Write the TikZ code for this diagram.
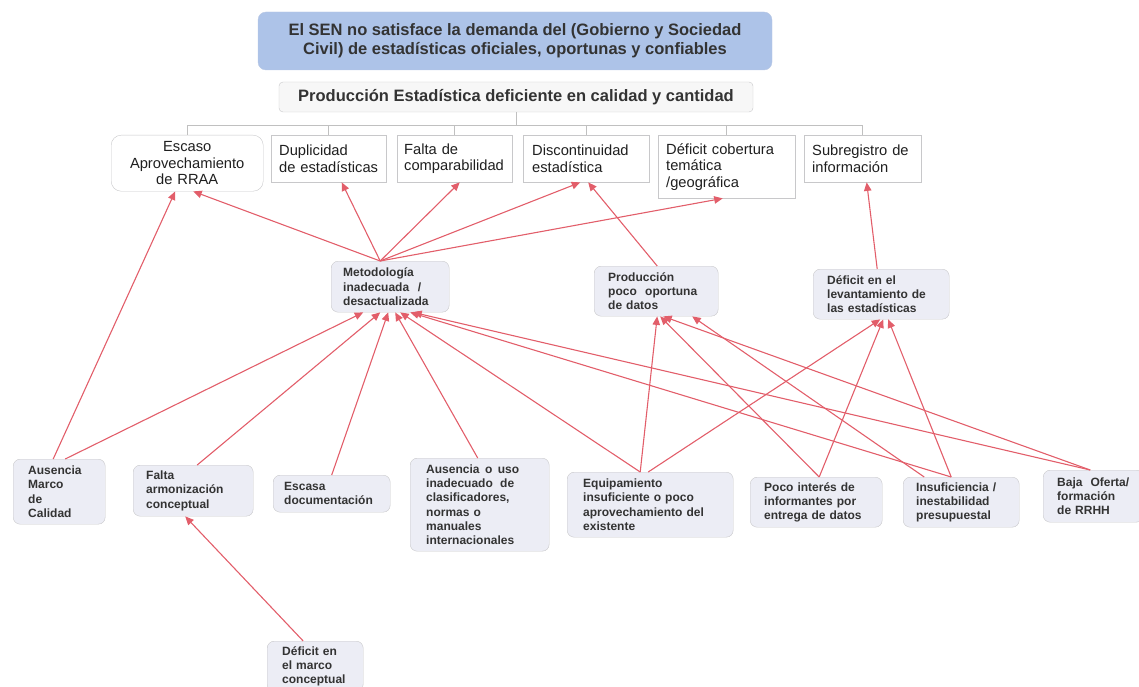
\documentclass[tikz,border=0pt]{standalone}
\usepackage{fontspec}
\setmainfont{Liberation Sans}
\usetikzlibrary{arrows.meta}
\definecolor{titleblue}{RGB}{173,195,232}
\definecolor{titleedge}{RGB}{185,200,228}
\definecolor{edgegray}{RGB}{200,200,202}
\definecolor{causefill}{RGB}{236,237,245}
\definecolor{arrowred}{RGB}{226,94,106}
\definecolor{txtgray}{RGB}{51,51,51}
\definecolor{busgray}{RGB}{192,192,192}
\newcommand{\spreadto}[2]{\makebox[#1][s]{#2}}
\tikzset{
  titlebox/.style={fill=titleblue,draw=titleedge,rounded corners=8pt,align=center,text=txtgray,
    font=\bfseries\fontsize{16.5}{19}\selectfont},
  probbox/.style={fill=gray!6,draw=edgegray,rounded corners=4pt,text=txtgray,
    font=\bfseries\fontsize{16.5}{19}\selectfont},
  effbox/.style={draw=edgegray,fill=white,align=left,inner xsep=8pt,inner ysep=3pt,anchor=north west,
    text=black!88,font=\fontsize{14.7}{16.5}\selectfont},
  causebox/.style={draw=edgegray,fill=causefill,rounded corners=7pt,align=left,inner xsep=14pt,
    inner ysep=3pt,anchor=north west,text=txtgray,font=\bfseries\fontsize{12}{14.3}\selectfont},
  causearrow/.style={draw=arrowred,line width=1.1pt,-{Triangle[length=8.5pt,width=7.5pt]}},
  bus/.style={draw=busgray,line width=0.8pt}
}
\begin{document}
\begin{tikzpicture}[x=1pt,y=-1pt]
\useasboundingbox (0,0) rectangle (1139,687);
% problema central
\node[titlebox,minimum width=514pt,minimum height=58pt] (sen) at (515,41)
  {El SEN no satisface la demanda del (Gobierno y Sociedad\\Civil) de estad\'isticas oficiales, oportunas y confiables};
\node[probbox,minimum width=474pt,minimum height=30pt] (prod) at (516,97)
  {Producci\'on Estad\'istica deficiente en calidad y cantidad};
% efectos
\node[effbox,rounded corners=10pt,align=center,text width=136pt,minimum height=56pt] (escaso) at (111,135)
  {Escaso\\Aprovechamiento\\de RRAA};
\node[effbox,text width=99pt,minimum height=47pt] (dupl) at (271,135) {Duplicidad\\de estad\'isticas};
\node[effbox,inner xsep=7pt,text width=101pt,minimum height=47pt] (faltac) at (397,135) {Falta de\\comparabilidad};
\node[effbox,inner xsep=9pt,text width=108pt,minimum height=47pt] (discont) at (523,135) {Discontinuidad\\estad\'istica};
\node[effbox,text width=121pt,minimum height=63pt] (defcob) at (658,135) {D\'eficit cobertura\\tem\'atica\\/geogr\'afica};
\node[effbox,text width=101pt,minimum height=47pt] (subreg) at (804,135) {Subregistro de\\informaci\'on};
\draw[bus] (prod.south) -- (prod.south |- 0,125);
\draw[bus] (escaso.north) |- (subreg.north |- 0,125) -- (subreg.north);
\foreach \n in {dupl,faltac,discont,defcob}
  \draw[bus] (\n.north) -- (\n.north |- 0,125);
% causas directas
\node[causebox,inner xsep=12pt,text width=94pt,minimum height=51pt] (metod) at (331,261)
  {Metodolog\'ia\\\spreadto{78pt}{inadecuada\hspace{0pt plus 1fil}/}\\desactualizada};
\node[causebox,text width=96pt,minimum height=50pt] (prodpoco) at (594,266)
  {Producci\'on\\\spreadto{89pt}{poco\hspace{0pt plus 1fil}oportuna}\\de datos};
\node[causebox,text width=108pt,minimum height=50pt] (deflev) at (813,269)
  {D\'eficit en el\\levantamiento de\\las estad\'isticas};
% causas de fondo
\node[causebox,inner xsep=15pt,text width=62pt,minimum height=65pt] (ausmarco) at (13,459)
  {Ausencia\\Marco\\de\\Calidad};
\node[causebox,inner xsep=13pt,text width=94pt,minimum height=51pt] (faltaarm) at (133,465)
  {Falta\\armonizaci\'on\\conceptual};
\node[causebox,inner xsep=11pt,text width=95pt,minimum height=37pt] (escasa) at (273,475)
  {Escasa\\documentaci\'on};
\node[causebox,inner xsep=16pt,text width=107pt,minimum height=93pt] (aususo) at (410,458)
  {\spreadto{93pt}{Ausencia\hspace{0pt plus 1fil}o\hspace{0pt plus 1fil}uso}\\\spreadto{88pt}{inadecuado\hspace{0pt plus 1fil}de}\\clasificadores,\\normas o\\manuales\\internacionales};
\node[causebox,inner xsep=16pt,text width=134pt,minimum height=65pt] (equip) at (567,472)
  {Equipamiento\\insuficiente o poco\\aprovechamiento del\\existente};
\node[causebox,text width=104pt,minimum height=50pt] (poco) at (750,477)
  {Poco inter\'es de\\informantes por\\entrega de datos};
\node[causebox,inner xsep=13pt,text width=90pt,minimum height=50pt] (insuf) at (903,477)
  {Insuficiencia /\\inestabilidad\\presupuestal};
\node[causebox,text width=72pt,minimum height=52pt] (baja) at (1043,470)
  {\spreadto{72pt}{Baja\hspace{0pt plus 1fil}Oferta/}\\formaci\'on\\de RRHH};
\node[causebox,inner xsep=15pt,text width=66pt,minimum height=50pt] (defmarco) at (267,641)
  {D\'eficit en\\el marco\\conceptual};
% flechas
\draw[causearrow] ([xshift=-6pt]ausmarco.north) -- ([xshift=-12pt]escaso.south);
\draw[causearrow] ([xshift=6pt]ausmarco.north) -- ([xshift=-27pt]metod.south);
\draw[causearrow] ([xshift=-10pt]metod.north) -- ([xshift=6pt]escaso.south);
\draw[causearrow] ([xshift=-10pt]metod.north) -- ([xshift=13pt]dupl.south);
\draw[causearrow] ([xshift=-10pt]metod.north) -- ([xshift=5pt]faltac.south);
\draw[causearrow] ([xshift=-10pt]metod.north) -- ([xshift=-6pt]discont.south);
\draw[causearrow] ([xshift=-10pt]metod.north) -- ([xshift=-4pt]defcob.south);
\draw[causearrow] ([xshift=1pt]prodpoco.north) -- ([xshift=2pt]discont.south);
\draw[causearrow] ([xshift=-4pt]deflev.north) -- ([xshift=4pt]subreg.south);
\draw[causearrow] ([xshift=4pt]faltaarm.north) -- ([xshift=-10pt]metod.south);
\draw[causearrow] (escasa.north) -- ([xshift=-2pt]metod.south);
\draw[causearrow] ([xshift=-2pt]aususo.north) -- ([xshift=5pt]metod.south);
\draw[causearrow] ([xshift=-10pt]equip.north) -- ([xshift=10pt]metod.south);
\draw[causearrow] ([xshift=-10pt]insuf.north) -- ([xshift=20pt]metod.south);
\draw[causearrow] ([xshift=-3pt]baja.north) -- ([xshift=23pt]metod.south);
\draw[causearrow] ([xshift=-10pt]equip.north) -- ([xshift=1pt]prodpoco.south);
\draw[causearrow] ([xshift=3pt]poco.north) -- ([xshift=4pt]prodpoco.south);
\draw[causearrow] ([xshift=-3pt]baja.north) -- ([xshift=7pt]prodpoco.south);
\draw[causearrow] ([xshift=-37pt]insuf.north) -- ([xshift=36pt]prodpoco.south);
\draw[causearrow] ([xshift=-2pt]equip.north) -- ([xshift=-1pt]deflev.south);
\draw[causearrow] ([xshift=3pt]poco.north) -- ([xshift=2pt]deflev.south);
\draw[causearrow] ([xshift=-10pt]insuf.north) -- ([xshift=7pt]deflev.south);
\draw[causearrow] ([xshift=-12pt]defmarco.north) -- ([xshift=-8pt]faltaarm.south);
\end{tikzpicture}
\end{document}
